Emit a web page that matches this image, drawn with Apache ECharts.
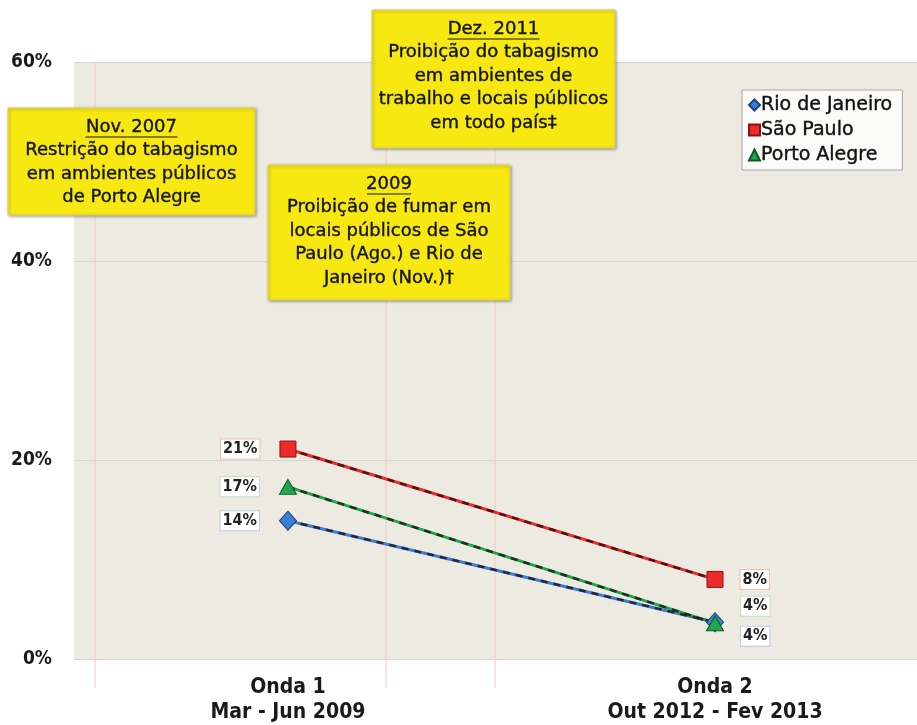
<!DOCTYPE html>
<html>
<head>
<meta charset="utf-8">
<script src="https://cdn.jsdelivr.net/npm/echarts@6/dist/echarts.min.js"></script>
<style>html,body{margin:0;padding:0;background:#fff}#c{width:917px;height:725px}</style>
</head>
<body>
<div id="c"></div>
<script>
const categories = ['Onda 1\nMar - Jun 2009', 'Onda 2\nOut 2012 - Fev 2013'];
const rioValues = [13.9, 3.7];
const spValues = [21.1, 8.0];
const paValues = [17.3, 3.6];
const yTicks = [0, 20, 40, 60];
const seriesNames = ['Rio de Janeiro', 'São Paulo', 'Porto Alegre'];

const FONT = "'DejaVu Sans', sans-serif";
const FONTC = "'DejaVu Sans Condensed', 'DejaVu Sans', sans-serif";
const chart = echarts.init(document.getElementById('c'));

const colors = { rio: '#3a7fd2', sp: '#ec2a2a', pa: '#20a64c' };
const borders = { rio: '#1d3f7a', sp: '#8a1212', pa: '#0d5a25' };
const labelBorders = { rio: '#b9c9e6', sp: '#f2bcae', pa: '#bfe0bf' };

function labelCfg(key, pos, offset) {
  return {
    show: true,
    position: pos,
    distance: pos === 'left' ? 20 : 17,
    offset: offset,
    formatter: p => Math.round(p.value[1]) + '%',
    backgroundColor: '#fff',
    borderColor: labelBorders[key],
    borderWidth: 1,
    padding: [2, 2, 1, 2],
    color: '#222',
    fontFamily: FONTC,
    fontWeight: 'bold',
    fontSize: 16
  };
}

function xy(vals) { return vals.map((v, i) => [i, v]); }

function pts(vals, key, off2) {
  return vals.map((v, i) => ({
    value: [i, v],
    label: i === 0 ? labelCfg(key, 'left', [0, 0]) : labelCfg(key, 'right', off2)
  }));
}

function lineSeries(name, vals, key) {
  return {
    name: name + '_line', type: 'line', data: xy(vals), showSymbol: false, silent: true,
    lineStyle: { color: colors[key], width: 3 }, z: 2
  };
}
function dashSeries(name, vals) {
  return {
    name: name + '_dash', type: 'line', data: xy(vals), showSymbol: false, silent: true,
    lineStyle: { color: 'rgba(35,15,15,0.8)', width: 2.5, type: [7, 6] }, z: 3
  };
}
function markSeries(name, data, key, symbol, size) {
  return {
    name: name, type: 'scatter', data: data, symbol: symbol, symbolSize: size,
    itemStyle: { color: colors[key], borderColor: borders[key], borderWidth: 1, opacity: 1 },
    z: 5
  };
}

function box(x, y, w, h, title, lines, titleW) {
  const cx = x + w / 2;
  const lh = 23.5;
  const els = [{
    type: 'rect', z: 20, shape: { x: x, y: y, width: w, height: h },
    style: { fill: '#f7e812', stroke: '#e0d060', lineWidth: 1, shadowBlur: 3, shadowColor: 'rgba(0,0,0,0.35)', shadowOffsetX: 1, shadowOffsetY: 1 }
  }];
  const all = [title].concat(lines);
  const top = y + 19;
  all.forEach((t, i) => {
    els.push({
      type: 'text', z: 21, x: cx, y: top + i * lh,
      style: { text: t, fill: '#151515', stroke: '#151515', lineWidth: 0.4, font: '18px ' + FONT, align: 'center', verticalAlign: 'middle' }
    });
  });
  els.push({
    type: 'line', z: 21, shape: { x1: cx - titleW / 2, y1: top + 10, x2: cx + titleW / 2, y2: top + 10 },
    style: { stroke: '#151515', lineWidth: 1.2 }
  });
  return { type: 'group', children: els };
}

function vline(x) {
  return { type: 'line', z: 1, silent: true, shape: { x1: x, y1: 62, x2: x, y2: 688 }, style: { stroke: '#f2c9bb', lineWidth: 1 } };
}

chart.setOption({
  animation: false,
  grid: { left: 74, top: 62, right: 0, height: 597, show: true, backgroundColor: '#edeae2', borderWidth: 0 },
  xAxis: {
    type: 'value', min: -0.501, max: 1.473,
    splitLine: { show: false },
    axisLine: { show: false }, axisTick: { show: false },
    axisLabel: {
      customValues: [0, 1], formatter: v => categories[Math.round(v)],
      margin: 16, color: '#1a1a1a', fontFamily: FONTC, fontWeight: 'bold', fontSize: 21, lineHeight: 25
    }
  },
  yAxis: {
    type: 'value', min: yTicks[0], max: yTicks[yTicks.length - 1], interval: 20,
    axisLine: { show: false }, axisTick: { show: false },
    axisLabel: { formatter: '{value}%', margin: 22, color: '#1a1a1a', fontFamily: FONTC, fontWeight: 'bold', fontSize: 19, padding: [3, 0, 0, 0] },
    splitLine: { lineStyle: { color: '#d9d5cd', width: 1 } }
  },
  legend: {
    orient: 'vertical', left: 742, top: 90,
    data: [
      { name: seriesNames[0], icon: 'diamond' },
      { name: seriesNames[1], icon: 'rect' },
      { name: seriesNames[2], icon: 'triangle' }
    ],
    backgroundColor: '#fbfbfa', borderColor: '#a8a8a8', borderWidth: 1,
    padding: [4, 10, 4, 6], itemGap: 3, itemWidth: 11, itemHeight: 11,
    textStyle: { color: '#111', fontFamily: FONT, fontSize: 19, lineHeight: 22, padding: [0, 0, 0, -4], textBorderColor: '#111', textBorderWidth: 0.4 }
  },
  graphic: [
    vline(95), vline(386), vline(495),
    box(8, 108, 247, 107, 'Nov. 2007', ['Restrição do tabagismo', 'em ambientes públicos', 'de Porto Alegre'], 92),
    box(268, 165, 242, 135, '2009', ['Proibição de fumar em', 'locais públicos de São', 'Paulo (Ago.) e Rio de', 'Janeiro (Nov.)†'], 44),
    box(372, 10, 243, 138, 'Dez. 2011', ['Proibição do tabagismo', 'em ambientes de', 'trabalho e locais públicos', 'em todo país‡'], 92)
  ],
  series: [
    lineSeries(seriesNames[0], rioValues, 'rio'),
    lineSeries(seriesNames[1], spValues, 'sp'),
    lineSeries(seriesNames[2], paValues, 'pa'),
    dashSeries(seriesNames[0], rioValues),
    dashSeries(seriesNames[1], spValues),
    dashSeries(seriesNames[2], paValues),
    markSeries(seriesNames[0], pts(rioValues, 'rio', [0, 14]), 'rio', 'diamond', [17, 19]),
    markSeries(seriesNames[1], pts(spValues, 'sp', [0, 0]), 'sp', 'rect', 16),
    markSeries(seriesNames[2], pts(paValues, 'pa', [0, -17]), 'pa', 'triangle', [17, 15])
  ]
});
</script>
</body>
</html>
